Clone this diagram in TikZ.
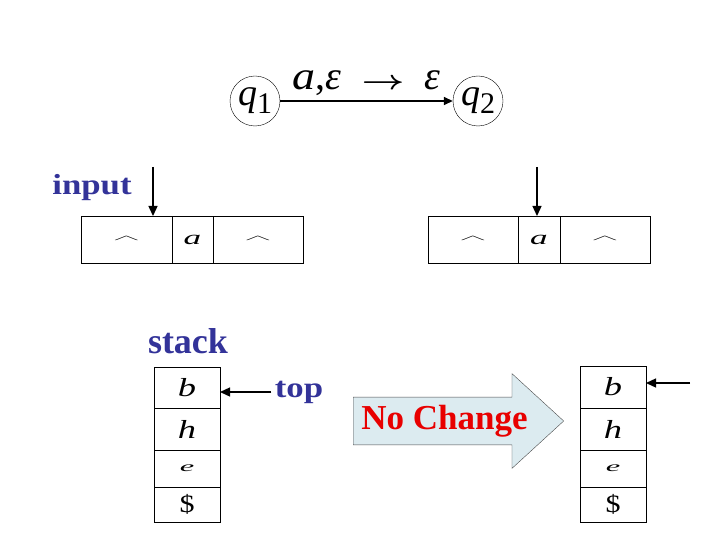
\documentclass[tikz,border=0pt]{standalone}
\usepackage{fontspec}
\setmainfont{Liberation Serif}
\newfontfamily\widefont[FakeStretch=1.2]{Liberation Serif}
\usetikzlibrary{arrows.meta, positioning, shapes.arrows}
\definecolor{Indigo}{HTML}{333399}
\definecolor{Signal}{HTML}{E80000}
\definecolor{PaleSky}{HTML}{DCEBF0}

\newcommand\blanksym{\raisebox{2pt}{\scalebox{2}[0.35]{$\wedge$}}}

\begin{document}
\begin{tikzpicture}[x=1pt, y=-1pt,
    state/.style={
        draw, circle, minimum size=50pt, inner sep=0pt,
        font=\fontsize{38}{38}\selectfont
    },
    tapecell/.style={
        draw, minimum height=47pt, inner sep=0pt, outer sep=0pt,
        font=\fontsize{22}{22}\selectfont\itshape
    },
    stackcell/.style={
        draw, minimum width=66pt, inner sep=0pt, outer sep=0pt,
        font=\fontsize{26}{26}\selectfont\itshape
    },
    lbl/.style={font=\widefont\fontsize{29}{29}\selectfont\bfseries, text=Indigo},
    arr/.style={-{Triangle[length=10pt, width=9pt]}, line width=1.3pt},
    bigarrow/.style={
        draw=black!70, fill=PaleSky, single arrow, inner xsep=8pt, inner ysep=7.7pt,
        single arrow head extend=23.5pt, single arrow tip angle=85,
        font=\fontsize{35}{35}\selectfont\bfseries, text=Signal
    }
]
\useasboundingbox (0,0) rectangle (720,540);

% transition
\node[state] (q1) at (255,101) {\textit{q}\raisebox{-0.2em}{\fontsize{30}{30}\selectfont 1}};
\node[state] (q2) at (478,101) {\textit{q}\raisebox{-0.2em}{\fontsize{30}{30}\selectfont 2}};
\draw[-{Triangle[length=9pt, width=8pt]}, line width=1.5pt] (q1) -- (q2)
    node[midway, above=1pt, font=\fontsize{40}{40}\selectfont]
    {\scalebox{1.15}[1]{\textit{a}},\textit{ε}\enspace{\boldmath\scalebox{1.5}[1.1]{$\rightarrow$}}\enspace\textit{ε}};

% input tapes
\node[lbl] (input) at (92,188) {input};

\node[tapecell, minimum width=91pt] (tapeL1) at (126.5,239.5) {\blanksym};
\node[tapecell, minimum width=41pt, right=0pt of tapeL1] (tapeL2) {\scalebox{1.6}[0.9]{a}};
\node[tapecell, minimum width=90pt, right=0pt of tapeL2] (tapeL3) {\blanksym};

\node[tapecell, minimum width=90pt] (tapeR1) at (473,239.5) {\blanksym};
\node[tapecell, minimum width=42pt, right=0pt of tapeR1] (tapeR2) {\scalebox{1.6}[0.9]{a}};
\node[tapecell, minimum width=90pt, right=0pt of tapeR2] (tapeR3) {\blanksym};

\coordinate (headL) at (153,167);
\coordinate (headR) at (537,167);
\draw[arr] (headL) -- (headL |- tapeL1.north);
\draw[arr] (headR) -- (headR |- tapeR2.north);

% stacks
\node[font=\fontsize{36}{36}\selectfont\bfseries, text=Indigo] (stack) at (188,341) {stack};

\node[stackcell, minimum height=41pt] (stackL1) at (187,387.5) {\scalebox{1.4}[1]{b}};
\node[stackcell, minimum height=42pt, below=0pt of stackL1] (stackL2) {\scalebox{1.4}[1]{h}};
\node[stackcell, minimum height=37pt, below=0pt of stackL2] (stackL3) {\scalebox{1.25}[0.55]{e}};
\node[stackcell, minimum height=35pt, below=0pt of stackL3, font=\fontsize{25}{25}\selectfont] (stackL4) {\scalebox{1.2}[1]{\$}};

\node[stackcell, minimum height=42pt] (stackR1) at (613,387) {\scalebox{1.4}[1]{b}};
\node[stackcell, minimum height=42pt, below=0pt of stackR1] (stackR2) {\scalebox{1.4}[1]{h}};
\node[stackcell, minimum height=37pt, below=0pt of stackR2] (stackR3) {\scalebox{1.25}[0.55]{e}};
\node[stackcell, minimum height=35pt, below=0pt of stackR3, font=\fontsize{25}{25}\selectfont] (stackR4) {\scalebox{1.2}[1]{\$}};

\node[lbl] (top) at (299,392) {top};
\draw[arr] (top.west) -- (top.west -| stackL1.east);

\coordinate (ptrR) at (690,383);
\draw[arr] (ptrR) -- (ptrR -| stackR1.east);

% no change arrow
\node[bigarrow, anchor=tail] (nochange) at (353,421) {\makebox[168pt][l]{No Change}};

\end{tikzpicture}
\end{document}
